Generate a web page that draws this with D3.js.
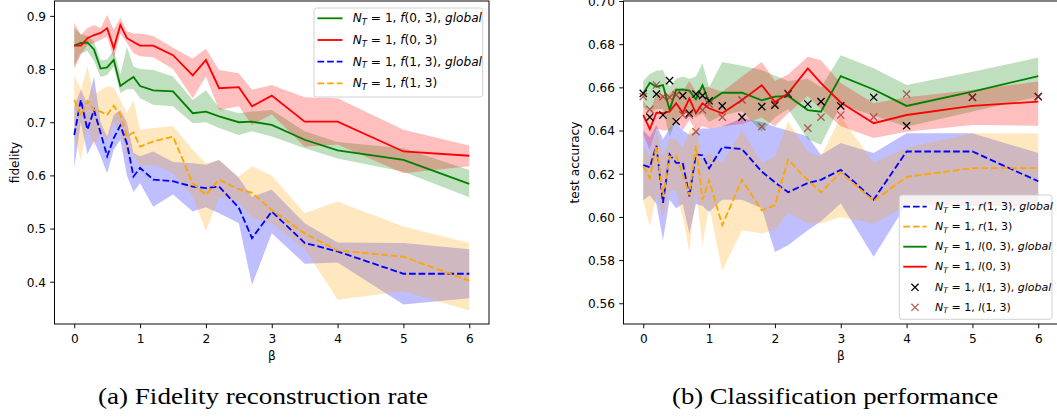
<!DOCTYPE html>
<html><head><meta charset="utf-8">
<script src="https://cdn.jsdelivr.net/npm/d3@7"></script>
<style>
body{margin:0;background:#fff}
svg{display:block}
text{font-family:"DejaVu Sans",sans-serif;fill:#000}
.pre{white-space:pre}
</style>
</head><body>
<svg id="c" width="1057" height="418"></svg>
<script>
// ---------------- data ----------------
const beta = [0,0.1,0.2,0.3,0.4,0.5,0.6,0.7,0.8,0.9,1.0,1.2,1.5,1.8,2.0,2.2,2.5,2.7,3.0,3.5,4.0,5.0,6.0];

// (a) fidelity
const fidF03Global   = [0.844,0.849,0.850,0.837,0.801,0.803,0.817,0.768,0.777,0.785,0.768,0.760,0.758,0.717,0.720,0.711,0.700,0.701,0.695,0.667,0.647,0.629,0.584];
const fidF03GlobalHi = [0.877,0.866,0.862,0.852,0.816,0.818,0.836,0.790,0.841,0.805,0.800,0.798,0.786,0.742,0.760,0.727,0.717,0.720,0.723,0.683,0.663,0.651,0.610];
const fidF03GlobalLo = [0.806,0.830,0.834,0.815,0.785,0.789,0.805,0.755,0.762,0.762,0.745,0.733,0.730,0.698,0.700,0.689,0.676,0.683,0.673,0.651,0.632,0.607,0.559];

const fidF03   = [0.844,0.844,0.858,0.864,0.868,0.877,0.839,0.883,0.858,0.851,0.844,0.844,0.826,0.788,0.817,0.764,0.766,0.730,0.750,0.701,0.701,0.645,0.637];
const fidF03Hi = [0.887,0.864,0.877,0.883,0.877,0.902,0.874,0.896,0.871,0.867,0.867,0.862,0.840,0.820,0.838,0.798,0.792,0.761,0.770,0.747,0.745,0.686,0.656];
const fidF03Lo = [0.800,0.827,0.845,0.849,0.855,0.861,0.820,0.867,0.849,0.830,0.824,0.822,0.800,0.745,0.786,0.723,0.730,0.695,0.715,0.654,0.658,0.604,0.617];

const fidF13Global   = [0.676,0.742,0.686,0.723,0.680,0.636,0.670,0.694,0.660,0.598,0.614,0.592,0.589,0.579,0.576,0.579,0.539,0.482,0.532,0.473,0.457,0.415,0.415];
const fidF13GlobalHi = [0.730,0.761,0.735,0.786,0.700,0.673,0.714,0.723,0.700,0.642,0.636,0.645,0.625,0.623,0.620,0.629,0.595,0.560,0.573,0.510,0.474,0.473,0.461];
const fidF13GlobalLo = [0.614,0.700,0.640,0.665,0.636,0.604,0.648,0.667,0.600,0.569,0.585,0.541,0.564,0.532,0.540,0.529,0.510,0.394,0.491,0.434,0.436,0.357,0.369];

const fidF13   = [0.742,0.713,0.740,0.723,0.720,0.714,0.731,0.714,0.673,0.681,0.654,0.664,0.673,0.585,0.564,0.592,0.574,0.567,0.535,0.491,0.459,0.447,0.402];
const fidF13Hi = [0.789,0.761,0.805,0.752,0.760,0.767,0.765,0.742,0.717,0.742,0.686,0.689,0.693,0.648,0.623,0.629,0.598,0.617,0.600,0.529,0.551,0.504,0.473];
const fidF13Lo = [0.673,0.629,0.692,0.654,0.680,0.665,0.700,0.680,0.636,0.640,0.617,0.620,0.604,0.560,0.495,0.560,0.550,0.520,0.510,0.462,0.366,0.382,0.346];

// (b) test accuracy
const accR13Global   = [0.624,0.623,0.633,0.6065,0.629,0.625,0.625,0.6095,0.629,0.6285,0.6225,0.6323,0.6314,0.621,0.616,0.6114,0.6157,0.6172,0.6218,0.608,0.6303,0.6303,0.6165];
const accR13GlobalHi = [0.640,0.637,0.6426,0.636,0.641,0.644,0.640,0.638,0.640,0.641,0.641,0.642,0.6457,0.644,0.6418,0.640,0.6372,0.6288,0.6342,0.6296,0.6388,0.6388,0.6296];
const accR13GlobalLo = [0.6077,0.610,0.606,0.5892,0.608,0.604,0.606,0.5923,0.606,0.605,0.6023,0.608,0.608,0.604,0.5838,0.5869,0.5938,0.598,0.6062,0.5815,0.6060,0.6050,0.6050];

const accR13   = [0.6235,0.618,0.633,0.6095,0.628,0.628,0.620,0.610,0.633,0.608,0.617,0.5962,0.6172,0.603,0.6055,0.6265,0.617,0.6114,0.6206,0.6074,0.6185,0.6226,0.6226];
const accR13Hi = [0.633,0.628,0.640,0.628,0.636,0.636,0.632,0.640,0.642,0.626,0.630,0.625,0.6403,0.625,0.628,0.6442,0.630,0.628,0.6465,0.625,0.632,0.6388,0.6388];
const accR13Lo = [0.6077,0.5954,0.610,0.600,0.612,0.612,0.600,0.5838,0.612,0.5869,0.605,0.5751,0.5938,0.5923,0.594,0.602,0.597,0.597,0.600,0.597,0.605,0.605,0.605];

const accL03Global   = [0.6572,0.6621,0.6603,0.661,0.6495,0.6588,0.659,0.6585,0.6545,0.661,0.6534,0.6575,0.6575,0.654,0.6557,0.656,0.6495,0.6487,0.6652,0.659,0.6514,0.658,0.6652];
const accL03GlobalHi = [0.6631,0.6662,0.6677,0.6680,0.6603,0.6640,0.6650,0.6640,0.6650,0.6711,0.6600,0.6718,0.6700,0.6680,0.6655,0.6630,0.6640,0.6600,0.6749,0.6688,0.6611,0.6672,0.6738];
const accL03GlobalLo = [0.6510,0.6480,0.6500,0.6500,0.6372,0.6450,0.6480,0.6480,0.6460,0.6480,0.6440,0.6470,0.6490,0.6395,0.6460,0.6500,0.6360,0.6334,0.6520,0.6470,0.6418,0.6488,0.6557];

const accL03   = [0.6472,0.6406,0.6483,0.648,0.6488,0.6526,0.6482,0.6549,0.648,0.6526,0.6503,0.648,0.6541,0.661,0.6532,0.6572,0.6688,0.662,0.653,0.6434,0.6472,0.6514,0.6534];
const accL03Hi = [0.6541,0.6480,0.6580,0.6560,0.6570,0.6600,0.6580,0.6630,0.6580,0.6600,0.6600,0.6580,0.6650,0.6718,0.6630,0.6660,0.6742,0.6726,0.6620,0.6526,0.6554,0.6588,0.6627];
const accL03Lo = [0.6380,0.6310,0.6410,0.6400,0.6400,0.6450,0.6400,0.6450,0.6400,0.6420,0.6410,0.6420,0.6430,0.6460,0.6420,0.6480,0.6560,0.6500,0.6420,0.6365,0.6395,0.6426,0.6422];

const accL13Global = [0.6572,0.6462,0.6569,0.6472,0.6631,0.6442,0.6562,0.648,0.6569,0.6562,0.6538,0.6514,0.6462,0.6511,0.6518,0.657,0.6523,0.6534,0.6514,0.6554,0.6422,0.6554,0.6557];
const accL13       = [0.6557,0.6498,0.6611,0.6557,0.6554,0.6565,0.6472,0.6472,0.6395,0.6495,0.6523,0.6462,0.6542,0.6418,0.6523,0.6572,0.6411,0.6462,0.6472,0.6462,0.6569,0.6554,0.6557];

// ticks & labels
const xTicks = [0,1,2,3,4,5,6];
const yTicksLeft = [0.4,0.5,0.6,0.7,0.8,0.9];
const yTicksRight = [0.56,0.58,0.60,0.62,0.64,0.66,0.68,0.70];
const legendLeft = [
  [["N","i"],["T","s"],[" = 1, ","r"],["f","i"],["(0, 3), ","r"],["global","i"]],
  [["N","i"],["T","s"],[" = 1, ","r"],["f","i"],["(0, 3)","r"]],
  [["N","i"],["T","s"],[" = 1, ","r"],["f","i"],["(1, 3), ","r"],["global","i"]],
  [["N","i"],["T","s"],[" = 1, ","r"],["f","i"],["(1, 3)","r"]]
];
const legendRight = [
  [["N","i"],["T","s"],[" = 1, ","r"],["r","i"],["(1, 3), ","r"],["global","i"]],
  [["N","i"],["T","s"],[" = 1, ","r"],["r","i"],["(1, 3)","r"]],
  [["N","i"],["T","s"],[" = 1, ","r"],["l","i"],["(0, 3), ","r"],["global","i"]],
  [["N","i"],["T","s"],[" = 1, ","r"],["l","i"],["(0, 3)","r"]],
  [["N","i"],["T","s"],[" = 1, ","r"],["l","i"],["(1, 3), ","r"],["global","i"]],
  [["N","i"],["T","s"],[" = 1, ","r"],["l","i"],["(1, 3)","r"]]
];
const captions = ["(a) Fidelity reconstruction rate", "(b) Classification performance"];

// ---------------- drawing ----------------
const svg = d3.select("#c");
const FS = 12.15, LW = 1.82, DASH = "6.7,2.9";
const COL = {green:"#008000", red:"#ff0000", blue:"#0000ff", orange:"#ffa500", black:"#000000", brown:"#a52a2a"};

function mathText(g, x, y, parts, fs) {
  const t = g.append("text").attr("x", x).attr("y", y).attr("class","pre").style("font-size", fs+"px");
  let sub = false;
  parts.forEach(([s, k]) => {
    const ts = t.append("tspan").text(s);
    if (k === "i" || k === "s") ts.style("font-style","italic");
    if (k === "s") { ts.style("font-size", (fs*0.7)+"px").attr("dy", fs*0.22); sub = true; }
    else if (sub) { ts.attr("dy", -fs*0.22); sub = false; }
  });
  return t;
}

function panel(cfg) {
  const x = d3.scaleLinear().domain([-0.3, 6.3]).range([cfg.x0, cfg.x1]);
  const y = d3.scaleLinear().domain(cfg.ydom).range([324, 1]);
  const g = svg.append("g");
  const cid = "clip" + cfg.id;
  svg.append("clipPath").attr("id", cid).append("rect")
    .attr("x", cfg.x0).attr("y", 1).attr("width", cfg.x1 - cfg.x0).attr("height", 323);
  const plot = g.append("g").attr("clip-path", `url(#${cid})`);

  const area = (hi, lo) => d3.area().x((d,i)=>x(beta[i])).y0((d,i)=>y(lo[i])).y1((d,i)=>y(hi[i]))(beta);
  const line = (v) => d3.line().x((d,i)=>x(beta[i])).y((d,i)=>y(v[i]))(beta);

  cfg.series.forEach(s => {
    if (s.hi) plot.append("path").attr("d", area(s.hi, s.lo)).attr("fill", COL[s.color]).attr("fill-opacity", 0.25);
  });
  cfg.series.forEach(s => {
    if (s.marker) return;
    plot.append("path").attr("d", line(s.v)).attr("fill","none").attr("stroke", COL[s.color])
      .attr("stroke-width", LW).attr("stroke-dasharray", s.dash ? DASH : null);
  });
  cfg.series.forEach(s => {
    if (!s.marker) return;
    const m = 3.6;
    s.v.forEach((v,i) => {
      const cx = x(beta[i]), cy = y(v);
      plot.append("path").attr("d", `M${cx-m},${cy-m}L${cx+m},${cy+m}M${cx-m},${cy+m}L${cx+m},${cy-m}`)
        .attr("stroke", COL[s.color]).attr("stroke-width", 1.3).attr("stroke-opacity", s.alpha || 1);
    });
  });

  // axes
  const ax = g.append("g").attr("transform","translate(0,324)")
    .call(d3.axisBottom(x).tickValues(xTicks).tickSize(4.25).tickPadding(4.25).tickFormat(d3.format("d")));
  ax.select(".domain").remove();
  ax.selectAll("line").attr("stroke","#000").attr("stroke-width",0.97);
  ax.selectAll("text").attr("y", 19).attr("dy", 0).style("font-size", FS+"px").attr("fill","#000");

  const ay = g.append("g").attr("transform",`translate(${cfg.x0},0)`)
    .call(d3.axisLeft(y).tickValues(cfg.yticks).tickSize(4.25).tickPadding(4.25).tickFormat(cfg.yfmt));
  ay.select(".domain").remove();
  ay.selectAll("line").attr("stroke","#000").attr("stroke-width",0.97);
  ay.selectAll("text").attr("dy", "0.36em").style("font-size", FS+"px").attr("fill","#000");

  g.append("rect").attr("x", cfg.x0).attr("y", 1).attr("width", cfg.x1 - cfg.x0).attr("height", 323)
    .attr("fill","none").attr("stroke","#000").attr("stroke-width",0.97);

  // labels
  g.append("text").attr("x", (cfg.x0+cfg.x1)/2).attr("y", 360).attr("text-anchor","middle")
    .style("font-size", FS+"px").text("β");
  g.append("text").attr("transform", `translate(${cfg.ylabX},162.5) rotate(-90)`).attr("text-anchor","middle")
    .style("font-size", FS+"px").text(cfg.ylabel);

  // legend
  const L = cfg.legend;
  const lg = g.append("g");
  lg.append("rect").attr("x", L.x).attr("y", L.y).attr("width", L.w).attr("height", L.h).attr("rx", 2.5)
    .attr("fill","#fff").attr("fill-opacity",0.8).attr("stroke","#d0d0d0").attr("stroke-width",0.97);
  cfg.series.forEach((s, i) => {
    const cy = L.rows[i];
    if (s.marker) {
      const cx = (L.hx0 + L.hx1)/2, m = 3.6;
      lg.append("path").attr("d", `M${cx-m},${cy-m}L${cx+m},${cy+m}M${cx-m},${cy+m}L${cx+m},${cy-m}`)
        .attr("stroke", COL[s.color]).attr("stroke-width", 1.3).attr("stroke-opacity", s.alpha || 1);
    } else {
      lg.append("line").attr("x1", L.hx0).attr("x2", L.hx1).attr("y1", cy).attr("y2", cy)
        .attr("stroke", COL[s.color]).attr("stroke-width", LW).attr("stroke-dasharray", s.dash ? DASH : null);
    }
    mathText(lg, L.tx, cy + L.fs*0.33, L.labels[i], L.fs);
  });

  // caption
  svg.append("text").attr("x", cfg.capX).attr("y", 404).attr("textLength", cfg.capW).attr("lengthAdjust","spacingAndGlyphs")
    .style("font-family", '"Liberation Serif", serif').style("font-size","24px").text(cfg.caption);
}

panel({
  id: "L", x0: 54.5, x1: 489, ydom: [0.3205, 0.928],
  yticks: yTicksLeft, yfmt: d3.format(".1f"), ylabel: "fidelity", ylabX: 19,
  series: [
    {v: fidF03Global, hi: fidF03GlobalHi, lo: fidF03GlobalLo, color: "green"},
    {v: fidF03, hi: fidF03Hi, lo: fidF03Lo, color: "red"},
    {v: fidF13Global, hi: fidF13GlobalHi, lo: fidF13GlobalLo, color: "blue", dash: true},
    {v: fidF13, hi: fidF13Hi, lo: fidF13Lo, color: "orange", dash: true}
  ],
  legend: {x: 314, y: 8, w: 168.7, h: 89, rows: [18.3, 40, 61.7, 83.3], hx0: 317.5, hx1: 342.5, tx: 352.7, fs: 12.15, labels: legendLeft},
  caption: captions[0], capX: 98, capW: 330
});

panel({
  id: "R", x0: 623.5, x1: 1058, ydom: [0.5504, 0.7],
  yticks: yTicksRight, yfmt: d3.format(".2f"), ylabel: "test accuracy", ylabX: 579,
  series: [
    {v: accR13Global, hi: accR13GlobalHi, lo: accR13GlobalLo, color: "blue", dash: true},
    {v: accR13, hi: accR13Hi, lo: accR13Lo, color: "orange", dash: true},
    {v: accL03Global, hi: accL03GlobalHi, lo: accL03GlobalLo, color: "green"},
    {v: accL03, hi: accL03Hi, lo: accL03Lo, color: "red"},
    {v: accL13Global, color: "black", marker: true},
    {v: accL13, color: "brown", marker: true, alpha: 0.75}
  ],
  legend: {x: 899.3, y: 195, w: 152.7, h: 124.3, rows: [206.7, 226.7, 246.7, 266.7, 287.3, 307.3], hx0: 903.3, hx1: 926.7, tx: 935, fs: 11, labels: legendRight},
  caption: captions[1], capX: 672, capW: 326
});
</script>
</body></html>
